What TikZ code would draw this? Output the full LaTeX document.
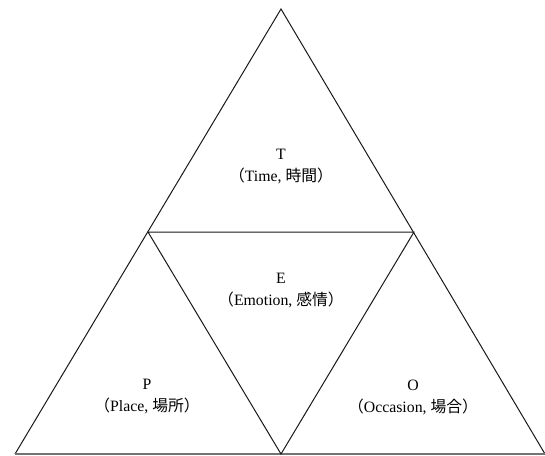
\documentclass[tikz,border=0pt]{standalone}
\usepackage{fontspec}
\setmainfont{Liberation Serif}
\newfontfamily\jp{Noto Sans CJK JP}
\usetikzlibrary{positioning, calc}

\begin{document}
\begin{tikzpicture}[x=1pt, y=-1pt,
  edge/.style={draw=black!90, line width=1pt},
  baseline/.style={draw=black!55, line width=1.8pt},
  label/.style={align=center, font=\fontsize{15.8}{22}\selectfont, inner sep=0pt}
]
\useasboundingbox (0,0) rectangle (545,455);
\coordinate (top) at (281,9);
\coordinate (left) at (15,454);
\coordinate (right) at (545,454);
\coordinate (midl) at (148,232);
\coordinate (midr) at (414,232);
\coordinate (midb) at (281,454);

\draw[edge] (left) -- (top) -- (right);
\draw[baseline] (left) -- (right);
\draw[edge] (midl) -- (midr) -- (midb) -- cycle;

\node[label] (time) at (281,167) {T\\{\jp （}Time, {\jp 時間）}};
\node[label] (emotion) at (281,291) {E\\{\jp （}Emotion, {\jp 感情）}};
\node[label] (place) at (147,397) {P\\{\jp （}Place, {\jp 場所）}};
\node[label] (occasion) at (413,397) {O\\{\jp （}Occasion, {\jp 場合）}};
\end{tikzpicture}
\end{document}
